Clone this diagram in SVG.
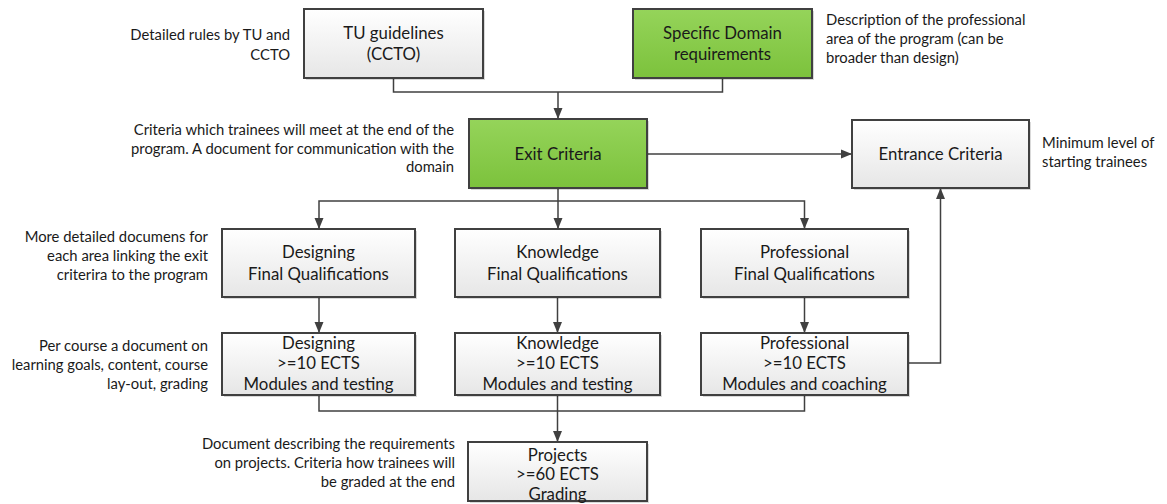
<svg xmlns="http://www.w3.org/2000/svg" width="1167" height="504" viewBox="0 0 1167 504">
<defs>
<linearGradient id="gw" x1="0" y1="0" x2="0" y2="1"><stop offset="0" stop-color="#ffffff"/><stop offset="1" stop-color="#e6e6e6"/></linearGradient>
<linearGradient id="gg" x1="0" y1="0" x2="0" y2="1"><stop offset="0" stop-color="#95d45a"/><stop offset="1" stop-color="#7cc23c"/></linearGradient>
<marker id="ah" markerUnits="userSpaceOnUse" markerWidth="12" markerHeight="10" refX="11" refY="5" orient="auto"><path d="M0,0.5 L11,5 L0,9.5 z" fill="#404040"/></marker>
</defs>
<style>
.box{fill:url(#gw);stroke:#404040;stroke-width:2}
.gbox{fill:url(#gg);stroke:#404040;stroke-width:2}
.sh{fill:#000;opacity:0.15}
.bt{font-family:Lato,"Liberation Sans",sans-serif;font-size:16.8px;fill:#1a1a1a;text-anchor:middle}
.an{font-family:Lato,"Liberation Sans",sans-serif;font-size:14.8px;fill:#1a1a1a}
.r{text-anchor:end}
.c{fill:none;stroke:#404040;stroke-width:1.5}
.ca{fill:none;stroke:#404040;stroke-width:1.5;marker-end:url(#ah)}
</style>
<rect width="1167" height="504" fill="#ffffff"/>
<g id="connectors">
<path class="c" d="M393.5,78 V92 H722.5 V78"/>
<path class="ca" d="M558,92 V119"/>
<path class="ca" d="M647,154 H852"/>
<path class="ca" d="M558,188 V229"/>
<path class="ca" d="M558,201 H319 V229"/>
<path class="ca" d="M558,201 H804.5 V229"/>
<path class="ca" d="M319,297 V333"/>
<path class="ca" d="M557.5,297 V333"/>
<path class="ca" d="M804.5,297 V333"/>
<path class="c" d="M319,395 V411 H804.5 V395"/>
<path class="ca" d="M557.5,395 V442"/>
<path class="ca" d="M908,363 H940.5 V188"/>
</g>
<g id="tu">
<rect class="sh" x="306" y="11" width="179" height="69"/>
<rect class="box" x="304" y="9" width="179" height="69"/>
<text class="bt" x="393.5" y="38.5">TU guidelines</text>
<text class="bt" x="393.5" y="59.5">(CCTO)</text>
</g>
<g id="specific">
<rect class="sh" x="635" y="11" width="179" height="69"/>
<rect class="gbox" x="633" y="9" width="179" height="69"/>
<text class="bt" x="722.5" y="38.5">Specific Domain</text>
<text class="bt" x="722.5" y="59.5">requirements</text>
</g>
<g id="exit">
<rect class="sh" x="471" y="121" width="178" height="69"/>
<rect class="gbox" x="469" y="119" width="178" height="69"/>
<text class="bt" x="558" y="159.5">Exit Criteria</text>
</g>
<g id="entrance">
<rect class="sh" x="854" y="122" width="177" height="68"/>
<rect class="box" x="852" y="120" width="177" height="68"/>
<text class="bt" x="940.5" y="160">Entrance Criteria</text>
</g>
<g id="fq-designing">
<rect class="sh" x="224" y="231" width="193" height="68"/>
<rect class="box" x="222" y="229" width="193" height="68"/>
<text class="bt" x="318.5" y="258">Designing</text>
<text class="bt" x="318.5" y="279.5">Final Qualifications</text>
</g>
<g id="fq-knowledge">
<rect class="sh" x="457" y="231" width="205" height="68"/>
<rect class="box" x="455" y="229" width="205" height="68"/>
<text class="bt" x="557.5" y="258">Knowledge</text>
<text class="bt" x="557.5" y="279.5">Final Qualifications</text>
</g>
<g id="fq-professional">
<rect class="sh" x="703" y="231" width="207" height="68"/>
<rect class="box" x="701" y="229" width="207" height="68"/>
<text class="bt" x="804.5" y="258">Professional</text>
<text class="bt" x="804.5" y="279.5">Final Qualifications</text>
</g>
<g id="mod-designing">
<rect class="sh" x="224" y="335" width="193" height="62"/>
<rect class="box" x="222" y="333" width="193" height="62"/>
<text class="bt" x="318.5" y="348.5">Designing</text>
<text class="bt" x="318.5" y="369">&gt;=10 ECTS</text>
<text class="bt" x="318.5" y="389.5">Modules and testing</text>
</g>
<g id="mod-knowledge">
<rect class="sh" x="457" y="335" width="205" height="62"/>
<rect class="box" x="455" y="333" width="205" height="62"/>
<text class="bt" x="557.5" y="348.5">Knowledge</text>
<text class="bt" x="557.5" y="369">&gt;=10 ECTS</text>
<text class="bt" x="557.5" y="389.5">Modules and testing</text>
</g>
<g id="mod-professional">
<rect class="sh" x="703" y="335" width="207" height="62"/>
<rect class="box" x="701" y="333" width="207" height="62"/>
<text class="bt" x="804.5" y="348.5">Professional</text>
<text class="bt" x="804.5" y="369">&gt;=10 ECTS</text>
<text class="bt" x="804.5" y="389.5">Modules and coaching</text>
</g>
<g id="projects">
<rect class="sh" x="470" y="444" width="179" height="59"/>
<rect class="box" x="468" y="442" width="179" height="59"/>
<text class="bt" x="557.5" y="460.5">Projects</text>
<text class="bt" x="557.5" y="480">&gt;=60 ECTS</text>
<text class="bt" x="557.5" y="499.5">Grading</text>
</g>
<g id="annotations">
<text class="an r" x="290" y="40">Detailed rules by TU and</text>
<text class="an r" x="290" y="59.5">CCTO</text>
<text class="an" x="826" y="25">Description of the professional</text>
<text class="an" x="826" y="44">area of the program (can be</text>
<text class="an" x="826" y="63">broader than design)</text>
<text class="an r" x="454" y="135">Criteria which trainees will meet at the end of the</text>
<text class="an r" x="454" y="153.5">program. A document for communication with the</text>
<text class="an r" x="454" y="172">domain</text>
<text class="an" x="1042" y="148">Minimum level of</text>
<text class="an" x="1042" y="167">starting trainees</text>
<text class="an r" x="208" y="242">More detailed documens for</text>
<text class="an r" x="208" y="261">each area linking the exit</text>
<text class="an r" x="208" y="280">criterira to the program</text>
<text class="an r" x="208" y="351">Per course a document on</text>
<text class="an r" x="208" y="370">learning goals, content, course</text>
<text class="an r" x="208" y="389">lay-out, grading</text>
<text class="an r" x="455" y="449">Document describing the requirements</text>
<text class="an r" x="455" y="468">on projects. Criteria how trainees will</text>
<text class="an r" x="455" y="487">be graded at the end</text>
</g>
</svg>
